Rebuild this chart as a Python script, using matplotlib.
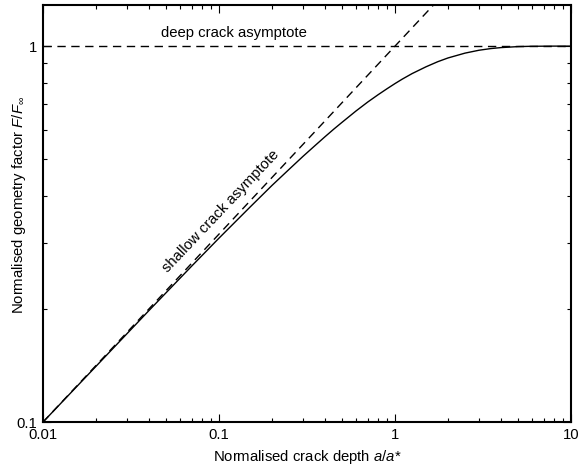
import numpy as np
import matplotlib
matplotlib.use("Agg")
import matplotlib.pyplot as plt
from matplotlib.ticker import LogLocator, FixedLocator, FixedFormatter, NullFormatter

plt.rcParams['font.family'] = ['Liberation Sans', 'DejaVu Sans']
plt.rcParams['mathtext.fontset'] = 'custom'
plt.rcParams['mathtext.rm'] = 'Liberation Sans'
plt.rcParams['mathtext.it'] = 'Liberation Sans:italic'

# solid curve
a_ratio = [0.01, 0.02, 0.04, 0.07, 0.1, 0.15, 0.2, 0.25, 0.3, 0.35, 0.4, 0.45,
           0.5, 0.6, 0.7, 0.8, 0.9, 1.0, 1.1, 1.25, 1.5, 1.75, 2.0, 2.5, 3.0,
           3.5, 4.0, 5.0, 6.0, 8.0, 10.0]
f_ratio = [0.1, 0.1407, 0.198, 0.260, 0.3085, 0.373, 0.426, 0.470, 0.509,
           0.543, 0.574, 0.602, 0.627, 0.672, 0.710, 0.742, 0.770, 0.795,
           0.817, 0.845, 0.881, 0.909, 0.930, 0.958, 0.975, 0.985, 0.991,
           0.997, 0.999, 1.0, 1.0]

# asymptotes
shallow_x = [0.01, 10.0]
shallow_y = [0.1, 3.162]
deep_x = [0.01, 10.0]
deep_y = [1.0, 1.0]

FS = 10.7

fig = plt.figure(figsize=(5.86, 4.70), dpi=100)
ax = fig.add_axes([0.0734, 0.102, 0.901, 0.887])

ax.plot(a_ratio, f_ratio, color='black', lw=1.0)
ax.plot(shallow_x, shallow_y, color='black', lw=1.0, dashes=(6, 4))
ax.plot(deep_x, deep_y, color='black', lw=1.0, dashes=(6, 4))

ax.set_xscale('log')
ax.set_yscale('log')
ax.set_xlim(0.01, 10)
ax.set_ylim(0.1, 1.285)

ax.xaxis.set_major_locator(FixedLocator([0.01, 0.1, 1, 10]))
ax.xaxis.set_major_formatter(FixedFormatter(['0.01', '0.1', '1', '10']))
ax.xaxis.set_minor_locator(LogLocator(base=10, subs=np.arange(2, 10)))
ax.xaxis.set_minor_formatter(NullFormatter())
ax.yaxis.set_major_locator(FixedLocator([0.1, 1]))
ax.yaxis.set_major_formatter(FixedFormatter(['0.1', '1']))
ax.yaxis.set_minor_locator(LogLocator(base=10, subs=np.arange(2, 10)))
ax.yaxis.set_minor_formatter(NullFormatter())

ax.tick_params(which='both', direction='in', top=True, right=True,
               labelsize=FS, width=0.8, pad=4)
ax.tick_params(which='major', length=6)
ax.tick_params(which='minor', length=3)
for s in ax.spines.values():
    s.set_linewidth(1.5)

ax.set_xlabel(r'Normalised crack depth $\mathit{a/a}$*', fontsize=FS)
ax.xaxis.set_label_coords(0.5, -0.062)
ax.set_ylabel(r'Normalised geometry factor $\mathit{F/F}_{\infty}$', fontsize=FS)
ax.yaxis.set_label_coords(-0.028, 0.52)

ax.text(0.0467, 1.04, 'deep crack asymptote', fontsize=FS, ha='left',
        va='bottom')
ax.text(0.051, 0.25, 'shallow crack asymptote', fontsize=FS, rotation=46.5,
        rotation_mode='anchor', ha='left', va='baseline')

fig.savefig('out.png', dpi=100)
